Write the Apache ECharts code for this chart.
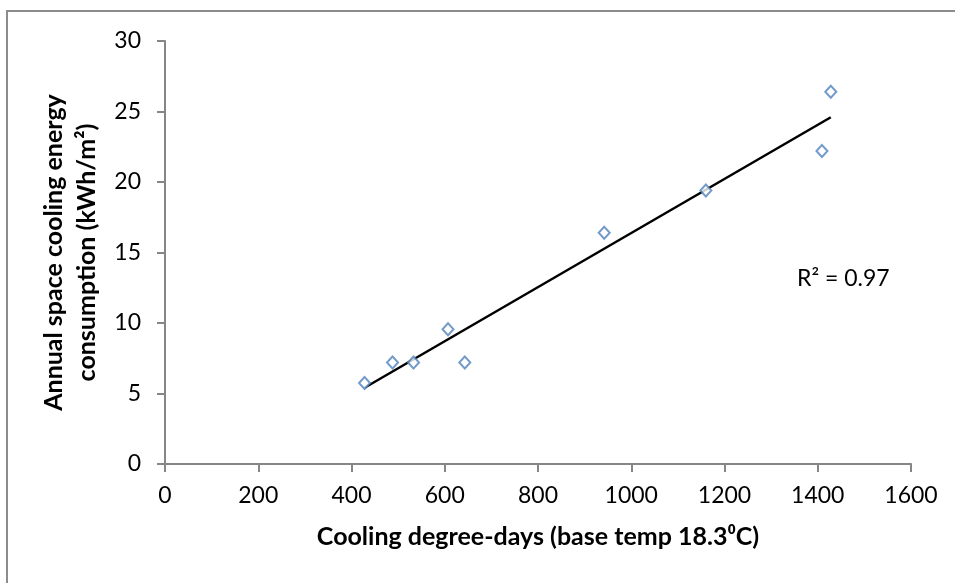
<!DOCTYPE html>
<html>
<head>
<meta charset="utf-8">
<script src="https://cdn.jsdelivr.net/npm/echarts@6/dist/echarts.min.js"></script>
<style>
  html, body { margin: 0; padding: 0; background: #ffffff; }
  #chart { width: 955px; height: 583px; }
</style>
</head>
<body>
<div id="chart"></div>
<script>
// Cooling degree-days (base 18.3 °C) for each city
const degreeDays = [428, 488, 533, 607, 643, 942, 1160, 1409, 1428];
// Annual space cooling energy consumption, kWh/m²
const coolingEnergy = [5.75, 7.2, 7.2, 9.55, 7.2, 16.4, 19.4, 22.2, 26.4];

const xTicks = { min: 0, max: 1600, interval: 200 };
const yTicks = { min: 0, max: 30, interval: 5 };
const rSquaredText = 'R² = 0.97';

// Least-squares linear trend across the data range
function linearTrend(xs, ys) {
  const n = xs.length;
  const mx = xs.reduce((a, b) => a + b, 0) / n;
  const my = ys.reduce((a, b) => a + b, 0) / n;
  let sxy = 0, sxx = 0;
  for (let i = 0; i < n; i++) {
    sxy += (xs[i] - mx) * (ys[i] - my);
    sxx += (xs[i] - mx) * (xs[i] - mx);
  }
  const slope = sxy / sxx;
  const intercept = my - slope * mx;
  const x0 = Math.min(...xs), x1 = Math.max(...xs);
  return [[x0, intercept + slope * x0], [x1, intercept + slope * x1]];
}

const points = degreeDays.map((x, i) => [x, coolingEnergy[i]]);
const trend = linearTrend(degreeDays, coolingEnergy);

const FONT = 'Lato, "Open Sans", sans-serif';
const axisGray = '#868686';

const chart = echarts.init(document.getElementById('chart'), null, { renderer: 'canvas' });
chart.setOption({
  animation: false,
  backgroundColor: '#ffffff',
  grid: { left: 165, right: 44, top: 41, bottom: 119 },
  xAxis: {
    type: 'value',
    min: xTicks.min, max: xTicks.max, interval: xTicks.interval,
    splitLine: { show: false },
    axisLine: { show: true, lineStyle: { color: axisGray, width: 2 } },
    axisTick: { show: true, length: 8, inside: false, lineStyle: { color: axisGray, width: 2 } },
    axisLabel: { color: '#000', fontFamily: FONT, fontSize: 23, margin: 20, formatter: v => String(v) },
    name: 'Cooling degree-days (base temp 18.3⁰C)',
    nameLocation: 'middle',
    nameGap: 60,
    nameTextStyle: { color: '#000', fontFamily: FONT, fontSize: 25, fontWeight: 'bold' }
  },
  yAxis: {
    type: 'value',
    min: yTicks.min, max: yTicks.max, interval: yTicks.interval,
    splitLine: { show: false },
    axisLine: { show: true, onZero: false, lineStyle: { color: axisGray, width: 2 } },
    axisTick: { show: true, length: 8, inside: false, lineStyle: { color: axisGray, width: 2 } },
    axisLabel: { color: '#000', fontFamily: FONT, fontSize: 23, margin: 24, formatter: v => String(v) },
    name: 'Annual space cooling energy\nconsumption (kWh/m²)',
    nameLocation: 'middle',
    nameRotate: 90,
    nameGap: 62,
    nameTextStyle: { color: '#000', fontFamily: FONT, fontSize: 25, fontWeight: 'bold', lineHeight: 33 }
  },
  series: [
    {
      type: 'line',
      data: trend,
      symbol: 'none',
      lineStyle: { color: '#000000', width: 2.5 },
      z: 2,
      silent: true
    },
    {
      type: 'scatter',
      data: points,
      symbol: 'diamond',
      symbolSize: [11, 12],
      itemStyle: { color: '#ffffff', borderColor: '#4F81BD', borderWidth: 2 },
      z: 3
    }
  ],
  graphic: [
    {
      type: 'polyline',
      shape: { points: [[7, 600], [7, 11], [970, 11]] },
      style: { fill: 'none', stroke: '#8c8c8c', lineWidth: 2 },
      silent: true, z: -1
    },
    {
      type: 'text',
      left: 797, top: 267,
      style: { text: rSquaredText, fill: '#000', font: '23px ' + FONT }
    }
  ]
});
</script>
</body>
</html>
